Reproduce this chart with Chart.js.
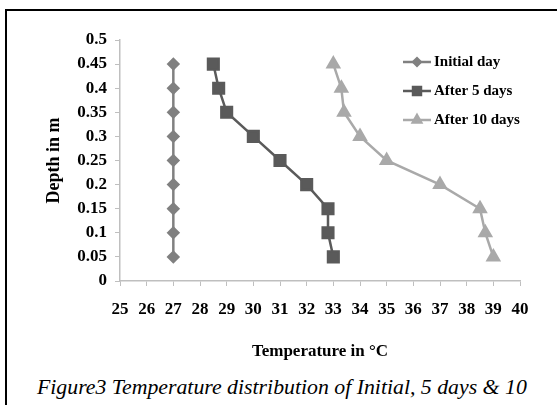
<!DOCTYPE html>
<html>
<head>
<meta charset="utf-8">
<script src="https://cdn.jsdelivr.net/npm/chart.js@4/dist/chart.umd.min.js"></script>
<style>
  html, body { margin: 0; padding: 0; width: 557px; height: 405px; overflow: hidden; background: #fff; }
  #frame { position: absolute; left: 5px; top: 9px; width: 700px; height: 500px; border: 2px solid #000; }
  #wrap { position: absolute; left: 0; top: 0; width: 557px; height: 370px; }
  #caption {
    position: absolute; left: 37px; top: 375px; white-space: nowrap;
    font-family: "Liberation Serif", "Times New Roman", serif; font-style: italic; font-size: 21.8px; line-height: 25px; color: #000;
  }
</style>
</head>
<body>
<div id="frame"></div>
<div id="wrap"><canvas id="depth-chart" width="557" height="370"></canvas></div>
<div id="caption">Figure3 Temperature distribution of Initial, 5 days &amp; 10</div>
<script>
const depths = [0.45, 0.4, 0.35, 0.3, 0.25, 0.2, 0.15, 0.1, 0.05];
const initialDay = [27, 27, 27, 27, 27, 27, 27, 27, 27];
const after5Days = [28.5, 28.7, 29, 30, 31, 32, 32.8, 32.8, 33];
const after10Days = [33, 33.3, 33.4, 34, 35, 37, 38.5, 38.7, 39];
const seriesNames = ["Initial day", "After 5 days", "After 10 days"];

const serif = "'Liberation Serif', 'Times New Roman', serif";

function toPoints(temps) {
  return temps.map(function (t, i) { return { x: t, y: depths[i] }; });
}

// legend sits on top of the plot, like the Excel original
const overlayLegend = {
  id: "overlayLegend",
  afterDraw: function (chart) {
    const ctx = chart.ctx;
    const x0 = 403, lineLen = 28, rowY = [62, 91, 120];
    ctx.save();
    chart.data.datasets.forEach(function (ds, i) {
      const y = rowY[i];
      ctx.strokeStyle = ds.borderColor;
      ctx.lineWidth = ds.borderWidth;
      ctx.beginPath();
      ctx.moveTo(x0, y);
      ctx.lineTo(x0 + lineLen, y);
      ctx.stroke();
      Chart.helpers.drawPoint(ctx, {
        pointStyle: ds.pointStyle,
        radius: ds.pointRadius * 0.75,
        borderWidth: 1,
        rotation: 0
      }, x0 + lineLen / 2, y);
      ctx.fillStyle = ds.pointBackgroundColor;
      ctx.fill();
      ctx.fillStyle = "#000";
      ctx.font = "bold 15px " + serif;
      ctx.textBaseline = "middle";
      ctx.fillText(ds.label, x0 + lineLen + 3, y);
    });
    ctx.restore();
  }
};

function makeSet(label, temps, color, style, radius) {
  return {
    label: label,
    data: toPoints(temps),
    showLine: true,
    borderColor: color,
    backgroundColor: color,
    pointBackgroundColor: color,
    pointBorderColor: color,
    borderWidth: 2.5,
    pointStyle: style,
    pointRadius: radius,
    pointHoverRadius: radius
  };
}

new Chart("depth-chart", {
  type: "scatter",
  data: {
    datasets: [
      makeSet(seriesNames[0], initialDay, "#808080", "rectRot", 5),
      makeSet(seriesNames[1], after5Days, "#5a5a5a", "rect", 7.5),
      makeSet(seriesNames[2], after10Days, "#a9a9a9", "triangle", 6.5)
    ]
  },
  options: {
    responsive: false,
    animation: false,
    layout: { padding: { left: 0, right: 37, top: 40, bottom: 0 } },
    plugins: {
      legend: { display: false },
      tooltip: { enabled: false }
    },
    scales: {
      x: {
        type: "linear",
        min: 25,
        max: 40,
        afterFit: function (scale) { scale.height = 89; },
        ticks: {
          stepSize: 1,
          autoSkip: false,
          maxRotation: 0,
          padding: 13,
          color: "#000",
          font: { family: serif, size: 17, weight: "bold" }
        },
        grid: { drawOnChartArea: false, tickLength: 5, color: "#bfbfbf" },
        border: { color: "#bfbfbf", width: 1.5 },
        title: {
          display: true,
          text: "Temperature in °C",
          color: "#000",
          font: { family: serif, size: 17, weight: "bold" },
          padding: { top: 0, bottom: 8 }
        }
      },
      y: {
        type: "linear",
        min: 0,
        max: 0.5,
        afterFit: function (scale) { scale.width = 120; },
        ticks: {
          stepSize: 0.05,
          autoSkip: false,
          padding: 8,
          color: "#000",
          font: { family: serif, size: 17, weight: "bold" },
          callback: function (v) { return String(Number(v.toFixed(2))); }
        },
        grid: { drawOnChartArea: false, tickLength: 5, color: "#bfbfbf" },
        border: { color: "#bfbfbf", width: 1.5 },
        title: {
          display: true,
          text: "Depth in m",
          color: "#000",
          font: { family: serif, size: 18, weight: "bold" },
          padding: { top: 44, bottom: 0 }
        }
      }
    }
  },
  plugins: [overlayLegend]
});
</script>
</body>
</html>
